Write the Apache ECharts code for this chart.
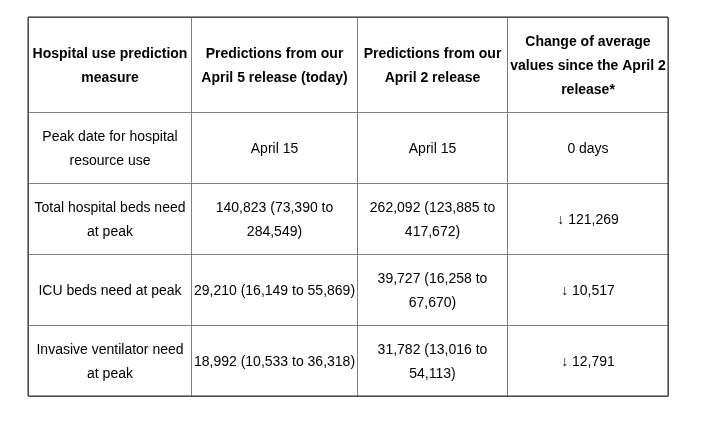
<!DOCTYPE html>
<html>
<head>
<meta charset="utf-8">
<script src="https://cdn.jsdelivr.net/npm/echarts@6/dist/echarts.min.js"></script>
<style>
  html, body { margin: 0; padding: 0; background: #fff; }
  #main { width: 713px; height: 428px; }
</style>
</head>
<body>
<div id="main"></div>
<script>
// table content
var headers = ['Hospital use prediction\nmeasure', 'Predictions from our\nApril 5 release (today)',
  'Predictions from our\nApril 2 release', 'Change of average\nvalues since the April 2\nrelease*'];
var measures = ['Peak date for hospital\nresource use', 'Total hospital beds need\nat peak',
  'ICU beds need at peak', 'Invasive ventilator need\nat peak'];
var april5 = ['April 15', '140,823 (73,390 to\n284,549)', '29,210 (16,149 to 55,869)',
  '18,992 (10,533 to 36,318)'];
var april2 = ['April 15', '262,092 (123,885 to\n417,672)', '39,727 (16,258 to\n67,670)',
  '31,782 (13,016 to\n54,113)'];
var change = ['0 days', '\u2193 121,269', '\u2193 10,517', '\u2193 12,791'];

// layout: column and row edges in axis units
var colEdges = [0, 163, 329, 479, 640];
var rowEdges = [0, 95, 166, 237, 308, 379];

var columns = [measures, april5, april2, change];
var data = [];
headers.forEach(function(h, c) { data.push([c, 0, h, 1]); });
for (var r = 0; r < measures.length; r++) {
  for (var c = 0; c < columns.length; c++) data.push([c, r + 1, columns[c][r], 0]);
}

var myChart = echarts.init(document.getElementById('main'));
myChart.setOption({
  animation : false,
  grid : {
    left : 28, top : 17, width : 640, height : 379,
    show : true, borderColor : '#222', borderWidth : 1, backgroundColor : 'transparent', z : 10
  },
  xAxis : { type : 'value', min : 0, max : 640, show : false },
  yAxis : { type : 'value', min : 0, max : 379, inverse : true, show : false },
  series : [{
    type : 'custom',
    data : data,
    renderItem : function(params, api) {
      var c = api.value(0), r = api.value(1);
      var p0 = api.coord([colEdges[c], rowEdges[r]]);
      var p1 = api.coord([colEdges[c + 1], rowEdges[r + 1]]);
      var bold = api.value(3) === 1;
      return {
        type : 'group',
        children : [{
          type : 'rect',
          shape : { x : Math.round(p0[0]) + 0.5, y : Math.round(p0[1]) + 0.5,
            width : Math.round(p1[0] - p0[0]), height : Math.round(p1[1] - p0[1]) },
          style : { fill : 'none', stroke : '#808080', lineWidth : 1 }
        }, {
          type : 'text',
          x : (p0[0] + p1[0]) / 2 + 0.5,
          y : (p0[1] + p1[1]) / 2 + 2,
          style : {
            text : data[params.dataIndex][2],
            align : 'center', verticalAlign : 'middle',
            fontFamily : 'Liberation Sans, Arial, sans-serif',
            fontSize : 14, fontWeight : bold ? 'bold' : 'normal',
            lineHeight : 24, fill : '#000'
          }
        }]
      };
    }
  }]
});
</script>
</body>
</html>
